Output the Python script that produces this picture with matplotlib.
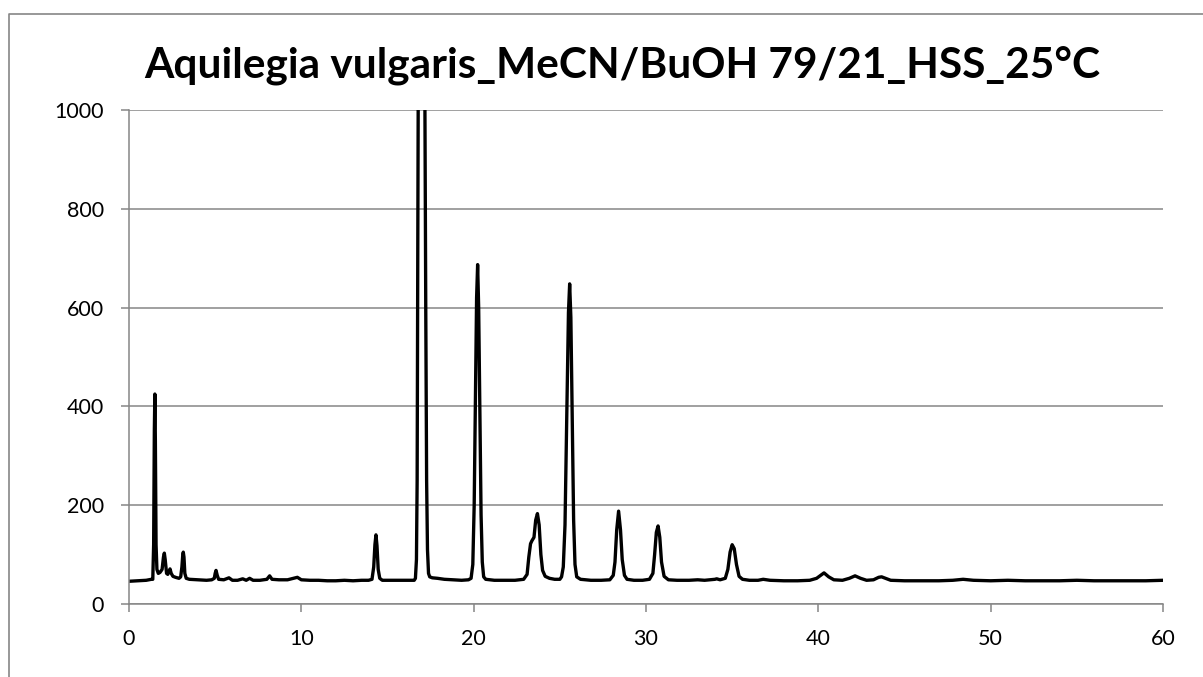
import matplotlib
matplotlib.use("Agg")
import matplotlib.pyplot as plt
from matplotlib.lines import Line2D

# retention time (min) and detector signal
time = [0.0, 0.5, 1.0, 1.3, 1.38, 1.43, 1.47, 1.50, 1.53, 1.57, 1.62, 1.70, 1.80,
        1.92, 2.00, 2.05, 2.10, 2.18, 2.25, 2.32, 2.38, 2.45, 2.55, 2.7, 2.9, 3.0,
        3.07, 3.12, 3.15, 3.19, 3.24, 3.32, 3.5, 4.0, 4.5, 4.8,
        4.95, 5.0, 5.05, 5.12, 5.2, 5.5, 5.8, 6.0, 6.3, 6.6, 6.8, 7.0, 7.2, 7.6,
        8.0, 8.16, 8.3, 8.7, 9.2, 9.77, 10.0, 10.5, 11.0, 11.5, 12.0, 12.5, 13.0,
        13.5, 13.9,
        14.1, 14.2, 14.27, 14.33, 14.39, 14.46, 14.55, 14.7, 15.2, 15.8, 16.3, 16.55,
        16.62, 16.68, 16.72, 16.75, 16.78, 16.85, 16.97, 17.08, 17.16, 17.22, 17.27,
        17.32, 17.38, 17.45, 17.6, 17.9, 18.3, 18.8, 19.3, 19.7, 19.85,
        19.95, 20.03, 20.10, 20.17, 20.23, 20.29, 20.36, 20.43, 20.50, 20.58, 20.7,
        21.2, 21.8, 22.4, 22.9, 23.1,
        23.2, 23.3, 23.38, 23.5, 23.6, 23.7, 23.8, 23.9, 24.0, 24.15, 24.4, 24.7,
        25.0, 25.1,
        25.2, 25.3, 25.4, 25.5, 25.57, 25.64, 25.72, 25.8, 25.88, 25.98, 26.2, 26.8,
        27.4, 27.9, 28.1,
        28.2, 28.3, 28.41, 28.52, 28.62, 28.75, 28.9, 29.3, 29.8, 30.2, 30.4,
        30.5, 30.6, 30.7, 30.8, 30.9, 31.05, 31.3, 31.8, 32.5, 33.0, 33.4, 34.0,
        34.1, 34.3, 34.6,
        34.75, 34.88, 35.0, 35.12, 35.25, 35.4, 35.6, 36.0, 36.5, 36.8, 37.2, 38.0,
        38.8, 39.5, 39.9,
        40.1, 40.33, 40.6, 40.9, 41.4, 41.8, 42.13, 42.45, 42.8, 43.2, 43.5, 43.67,
        43.9, 44.2, 45.0, 46.0, 47.0, 47.8, 48.4, 49.0, 50.0, 51.0, 52.0, 53.0,
        54.0, 55.0, 56.0, 57.0, 58.0, 59.0, 60.0]
signal = [46, 47, 48, 50, 50, 120, 350, 425, 330, 120, 70, 62, 64,
          70, 95, 103, 90, 62, 60, 66, 71, 62, 56, 54, 52, 55,
          75, 100, 105, 95, 62, 52, 50, 49, 48, 49,
          52, 62, 68, 58, 50, 49, 53, 48, 48, 51, 48, 52, 48, 48,
          50, 57, 50, 49, 49, 54, 49, 48, 48, 47, 47, 48, 47,
          48, 48,
          50, 75, 120, 140, 118, 70, 52, 48, 48, 48, 48, 48,
          52, 90, 250, 600, 1000, 2000, 3000, 2200, 1100, 600, 250,
          110, 62, 55, 53, 52, 50, 49, 48, 49, 52,
          80, 200, 420, 620, 687, 600, 380, 180, 85, 55, 50,
          48, 48, 48, 50, 60,
          95, 122, 128, 135, 170, 183, 160, 100, 68, 56, 52, 50,
          50, 55,
          75, 160, 370, 590, 648, 580, 380, 170, 80, 55, 50, 48,
          48, 49, 58,
          85, 150, 188, 150, 90, 58, 50, 48, 48, 50, 62,
          100, 145, 158, 135, 85, 56, 49, 48, 48, 49, 48, 50,
          51, 49, 52,
          70, 105, 120, 112, 80, 56, 50, 48, 48, 50, 48, 47,
          47, 48, 52,
          57, 63, 55, 49, 48, 52, 57, 52, 48, 49, 54, 55,
          52, 48, 47, 47, 47, 48, 50, 48, 47, 48, 47, 47,
          47, 48, 47, 47, 47, 47, 48]

title = "Aquilegia vulgaris_MeCN/BuOH 79/21_HSS_25°C"
x_ticks = [0, 10, 20, 30, 40, 50, 60]
y_ticks = [0, 200, 400, 600, 800, 1000]

W, H = 1203, 677
gray = "#868686"

plt.rcParams["font.family"] = ["Lato", "DejaVu Sans"]

fig = plt.figure(figsize=(W / 100, H / 100), dpi=100)
ax = fig.add_axes([129 / W, 1 - 604 / H, (1163 - 129) / W, (604 - 110) / H])

ax.plot(time, signal, color="black", linewidth=2.4, solid_joinstyle="round")

ax.set_xlim(0, 60)
ax.set_ylim(0, 1000)
ax.set_xticks(x_ticks)
ax.set_yticks(y_ticks)
ax.grid(axis="y", color=gray, linewidth=1.1)
ax.set_axisbelow(True)
for side in ["top", "right"]:
    ax.spines[side].set_visible(False)
for side in ["left", "bottom"]:
    ax.spines[side].set_color(gray)
    ax.spines[side].set_linewidth(1.1)
ax.tick_params(axis="both", direction="out", length=6, width=1.1, color=gray,
               labelsize=15.5, labelcolor="black")
ax.tick_params(axis="y", pad=12)
ax.tick_params(axis="x", pad=12)

fig.text(622 / W, 1 - 66 / H, title, ha="center", va="center",
         fontsize=30.5, fontweight="bold")

# chart area border (right and bottom edges are outside the image)
fig.add_artist(Line2D([9 / W, 9 / W, 1.0], [0.0, 1 - 14 / H, 1 - 14 / H],
                      transform=fig.transFigure, color=gray, linewidth=1.2))

fig.savefig("out.png", dpi=100)
